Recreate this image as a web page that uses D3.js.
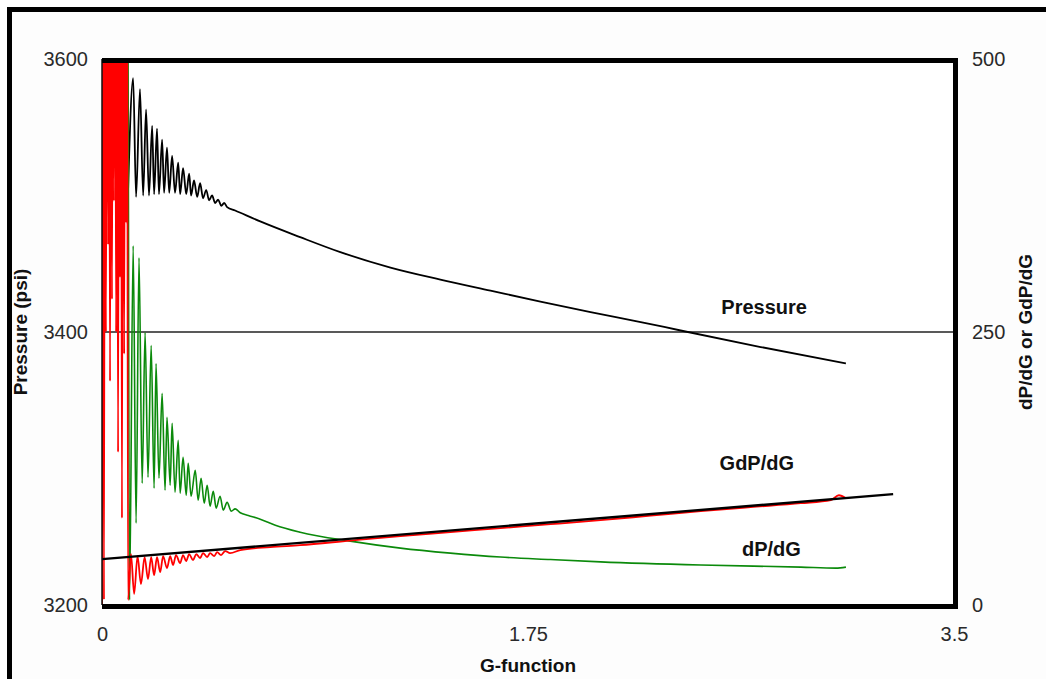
<!DOCTYPE html>
<html>
<head>
<meta charset="utf-8">
<script src="https://cdn.jsdelivr.net/npm/d3@7"></script>
<style>
  html, body { margin: 0; padding: 0; background: #ffffff; }
  svg { display: block; }
  text { font-family: "Liberation Sans", Arial, Helvetica, sans-serif; }
</style>
</head>
<body>
<svg id="chart" width="1046" height="679"></svg>
<script>
// G-function closure analysis: pressure decline plus the two derivative curves.

// Axis ticks
const gTicks = [0, 1.75, 3.5];
const pressureTicks = [3200, 3400, 3600];
const derivTicks = [0, 250, 500];

// Bottom-hole pressure (psi) against G-function
const pressure = [
  [0.107, 3503], [0.128, 3586], [0.140, 3499], [0.156, 3578], [0.169, 3500],
  [0.181, 3563], [0.193, 3500], [0.206, 3551], [0.214, 3501], [0.226, 3549],
  [0.234, 3501], [0.247, 3541], [0.255, 3502], [0.267, 3535], [0.276, 3502],
  [0.288, 3529], [0.300, 3502], [0.313, 3524], [0.321, 3501], [0.333, 3520],
  [0.346, 3501], [0.358, 3516], [0.366, 3500], [0.378, 3511], [0.391, 3499],
  [0.403, 3509], [0.415, 3498], [0.428, 3504], [0.440, 3496.5], [0.452, 3500],
  [0.465, 3494.5], [0.477, 3497], [0.490, 3492.5], [0.502, 3494.5], [0.514, 3491.5],
  [0.547, 3489], [0.650, 3481], [0.814, 3469.5], [0.979, 3458.5], [1.185, 3447.2],
  [1.390, 3438.4], [1.596, 3430.3], [1.801, 3422.3], [2.007, 3414.6], [2.213, 3407.3],
  [2.377, 3401.1], [2.706, 3389], [3.056, 3377]
];

// dP/dG (right axis); the opening spike runs off the top of the scale
const dpdg = [
  [0.000, 0], [0.003, 650], [0.105, 650], [0.113, 4.6], [0.128, 329], [0.140, 75],
  [0.152, 318], [0.165, 111.5], [0.177, 249.5], [0.189, 117], [0.202, 237.7],
  [0.214, 106.9], [0.222, 221.2], [0.234, 116.1], [0.247, 193.8], [0.259, 105.1],
  [0.267, 171.8], [0.280, 109.7], [0.288, 166.4], [0.300, 103.3], [0.313, 150.8],
  [0.321, 102.4], [0.333, 135.3], [0.346, 100.5], [0.354, 129.8], [0.366, 99.6],
  [0.383, 123.4], [0.395, 96], [0.407, 116.1], [0.420, 93.2], [0.432, 109.7],
  [0.444, 90.5], [0.457, 104.2], [0.469, 88.7], [0.485, 99.6], [0.498, 86.8],
  [0.514, 94], [0.531, 86], [0.547, 88], [0.568, 84.5], [0.601, 82],
  [0.650, 78.6], [0.712, 73.1], [0.814, 66.7], [1.020, 58.5], [1.226, 52.1],
  [1.431, 47.5], [1.637, 43.9], [1.843, 41.6], [2.048, 39.5], [2.460, 36.6],
  [2.871, 34.7], [3.015, 33.8], [3.056, 34.7]
];

// G*dP/dG (right axis)
const gdpdg = [
  [0.000, 0], [0.004, 650], [0.008, 5], [0.012, 650], [0.016, 250], [0.021, 650],
  [0.025, 330], [0.029, 650], [0.033, 205], [0.037, 650], [0.041, 280],
  [0.045, 650], [0.049, 370], [0.054, 650], [0.058, 250], [0.062, 650],
  [0.066, 140], [0.070, 650], [0.074, 300], [0.078, 650], [0.082, 79.5],
  [0.086, 650], [0.091, 230], [0.095, 650], [0.099, 350], [0.103, 650],
  [0.107, 4.6], [0.119, 46.6], [0.132, 10.1], [0.146, 44.8], [0.160, 19.2],
  [0.175, 43.9], [0.189, 23.8], [0.202, 43.9], [0.214, 27.4], [0.226, 43.9],
  [0.239, 30.2], [0.251, 44.8], [0.267, 33.8], [0.280, 44.8], [0.292, 36.6],
  [0.304, 45.7], [0.321, 38.4], [0.333, 45.7], [0.346, 40.2], [0.358, 46.6],
  [0.374, 41.1], [0.387, 46.6], [0.403, 43], [0.415, 47.5], [0.432, 43.9],
  [0.444, 47.5], [0.461, 44.8], [0.473, 48.4], [0.489, 45.7], [0.506, 49.4],
  [0.526, 47.5], [0.568, 50.3], [0.691, 53], [0.814, 54.8], [1.020, 59],
  [1.226, 63.1], [1.431, 66.7], [1.637, 70.4], [1.843, 74], [2.048, 77.7],
  [2.254, 81.8], [2.460, 85.9], [2.665, 89.6], [2.871, 93.2], [2.994, 96],
  [3.027, 100.5], [3.056, 97.8]
];

// Straight line drawn through the G*dP/dG trend
const tangent = [[0, 42], [3.25, 101.5]];

// Curve annotations
const curveLabels = [
  { text: "Pressure", g: 2.72, v: 3413, axis: "p" },
  { text: "GdP/dG", g: 2.69, v: 123.4, axis: "d" },
  { text: "dP/dG", g: 2.75, v: 44.8, axis: "d" }
];

const svg = d3.select("#chart");
const W = 1046, H = 679;
const plot = { left: 102, top: 59, right: 954, bottom: 605 };

// outer panel
svg.append("rect").attr("x", 0).attr("y", 0).attr("width", W).attr("height", H).attr("fill", "#ffffff");
svg.append("rect").attr("x", 10).attr("y", 10).attr("width", W - 10).attr("height", H - 10).attr("fill", "#fdfdfd");
svg.append("line").attr("x1", 7).attr("x2", W).attr("y1", 9.5).attr("y2", 9.5)
  .attr("stroke", "#000").attr("stroke-width", 5);
svg.append("line").attr("x1", 9.5).attr("x2", 9.5).attr("y1", 7).attr("y2", H)
  .attr("stroke", "#000").attr("stroke-width", 5);

const x = d3.scaleLinear().domain([0, 3.5]).range([plot.left, plot.right]);
const yP = d3.scaleLinear().domain([3200, 3600]).range([plot.bottom, plot.top]);
const yD = d3.scaleLinear().domain([0, 500]).range([plot.bottom, plot.top]);

svg.append("rect").attr("x", plot.left).attr("y", plot.top)
  .attr("width", plot.right - plot.left).attr("height", plot.bottom - plot.top).attr("fill", "#ffffff");

svg.append("defs").append("clipPath").attr("id", "plotClip")
  .append("rect").attr("x", plot.left).attr("y", plot.top)
  .attr("width", plot.right - plot.left).attr("height", plot.bottom - plot.top);

// gridline at 3400 psi
svg.append("line")
  .attr("x1", plot.left).attr("x2", plot.right)
  .attr("y1", yP(3400)).attr("y2", yP(3400))
  .attr("stroke", "#222").attr("stroke-width", 1.5);

const layer = svg.append("g").attr("clip-path", "url(#plotClip)");

const lineP = d3.line().x(d => x(d[0])).y(d => yP(d[1])).curve(d3.curveMonotoneX);
const lineD = d3.line().x(d => x(d[0])).y(d => yD(d[1])).curve(d3.curveMonotoneX);

layer.append("path").datum(pressure).attr("d", lineP)
  .attr("fill", "none").attr("stroke", "#000").attr("stroke-width", 1.8).attr("stroke-linejoin", "round");
layer.append("path").datum(dpdg).attr("d", lineD)
  .attr("fill", "none").attr("stroke", "#0b8a0b").attr("stroke-width", 1.6).attr("stroke-linejoin", "round");
layer.append("path").datum(gdpdg).attr("d", lineD)
  .attr("fill", "none").attr("stroke", "#ff0000").attr("stroke-width", 1.8).attr("stroke-linejoin", "round");
layer.append("path").datum(tangent).attr("d", d3.line().x(d => x(d[0])).y(d => yD(d[1])))
  .attr("fill", "none").attr("stroke", "#000").attr("stroke-width", 2.4);

// plot frame: thin left edge, heavy top/right/bottom
svg.append("line").attr("x1", plot.left).attr("x2", plot.left).attr("y1", plot.top).attr("y2", plot.bottom)
  .attr("stroke", "#111").attr("stroke-width", 1.5);
svg.append("path")
  .attr("d", `M${plot.left},${plot.top + 1.5} H${plot.right + 1.5} V${plot.bottom + 1.5} H${plot.left}`)
  .attr("fill", "none").attr("stroke", "#000").attr("stroke-width", 5);

// axes
const tickFont = g => g.selectAll("text").attr("font-size", 20).attr("fill", "#2a2a2a")
  .attr("font-family", "'Liberation Sans', Arial, sans-serif");

svg.append("g").attr("transform", `translate(${plot.left},0)`)
  .call(d3.axisLeft(yP).tickValues(pressureTicks).tickSize(0).tickPadding(14).tickFormat(d3.format("d")))
  .call(g => g.select(".domain").remove())
  .call(tickFont);

svg.append("g").attr("transform", `translate(${plot.right},0)`)
  .call(d3.axisRight(yD).tickValues(derivTicks).tickSize(0).tickPadding(18).tickFormat(d3.format("d")))
  .call(g => g.select(".domain").remove())
  .call(tickFont);

svg.append("g").attr("transform", `translate(0,${plot.bottom})`)
  .call(d3.axisBottom(x).tickValues(gTicks).tickSize(0).tickPadding(22).tickFormat(d => String(d)))
  .call(g => g.select(".domain").remove())
  .call(tickFont);

// axis titles
svg.append("text").attr("x", (plot.left + plot.right) / 2).attr("y", 672)
  .attr("text-anchor", "middle").attr("font-size", 19).attr("font-weight", "bold").attr("fill", "#111")
  .text("G-function");

svg.append("text").attr("transform", `translate(27,${(plot.top + plot.bottom) / 2}) rotate(-90)`)
  .attr("text-anchor", "middle").attr("font-size", 19).attr("font-weight", "bold").attr("fill", "#111")
  .text("Pressure (psi)");

svg.append("text").attr("transform", `translate(1032,${(plot.top + plot.bottom) / 2}) rotate(-90)`)
  .attr("text-anchor", "middle").attr("font-size", 19).attr("font-weight", "bold").attr("fill", "#111")
  .text("dP/dG or GdP/dG");

// curve annotations
svg.append("g").selectAll("text").data(curveLabels).join("text")
  .attr("x", d => x(d.g))
  .attr("y", d => d.axis === "p" ? yP(d.v) : yD(d.v))
  .attr("text-anchor", "middle").attr("font-size", 20).attr("font-weight", "bold").attr("fill", "#111")
  .text(d => d.text);
</script>
</body>
</html>
